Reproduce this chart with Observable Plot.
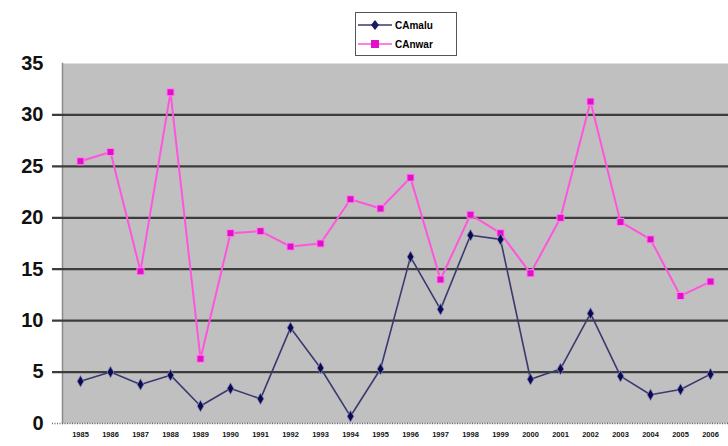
<!DOCTYPE html>
<html><head><meta charset="utf-8">
<script src="https://cdn.jsdelivr.net/npm/d3@7"></script>
<script src="https://cdn.jsdelivr.net/npm/@observablehq/plot@0.6"></script>
<style>
body{margin:0;background:#fff;}
#wrap{position:relative;width:728px;height:446px;font-family:"Liberation Sans",Arial,sans-serif;}
#legend{position:absolute;left:355px;top:12px;width:102px;height:44px;border:1.5px solid #555;background:#fff;box-sizing:border-box;font-size:10px;font-weight:bold;}
.row{position:absolute;left:2px;height:14px;display:flex;align-items:center;}
.row svg{margin-right:3px}
</style></head>
<body><div id="wrap"><div id="chart"></div><div id="legend"></div></div>
<script>
const years = ["1985","1986","1987","1988","1989","1990","1991","1992","1993","1994","1995","1996","1997","1998","1999","2000","2001","2002","2003","2004","2005","2006"];
const seriesNames = ["CAmalu","CAnwar"];
const blueValues = [4.1,5.0,3.8,4.7,1.7,3.4,2.4,9.3,5.4,0.7,5.3,16.2,11.1,18.3,17.9,4.3,5.3,10.7,4.6,2.8,3.3,4.8];
const pinkValues = [25.5,26.4,14.8,32.2,6.3,18.5,18.7,17.2,17.5,21.8,20.9,23.9,14.0,20.3,18.5,14.6,20.0,31.3,19.6,17.9,12.4,13.8];
const yTicks = [0,5,10,15,20,25,30,35];
const gridValues = [5,10,15,20,25,30];

const blue = years.map((y,i)=>({year:y, value:blueValues[i]}));
const pink = years.map((y,i)=>({year:y, value:pinkValues[i]}));

const plot = Plot.plot({
  width:728, height:446,
  marginTop:63, marginBottom:23, marginLeft:62, marginRight:0,
  style:{fontFamily:"'Liberation Sans',Arial,sans-serif", background:"transparent"},
  x:{type:"point", domain:years, padding:0.5, label:null},
  y:{domain:[0,35], label:null},
  marks:[
    Plot.frame({fill:"#c0c0c0", stroke:null}),
    Plot.frame({anchor:"left", stroke:"#8a8a8a", strokeWidth:1.5}),
    Plot.ruleY(gridValues, {stroke:"#3c3c3c", strokeWidth:2.2, insetLeft:-10}),
    Plot.ruleY([0], {stroke:"#666", strokeDasharray:"1,1.5", strokeWidth:1.5, insetLeft:-10}),
    Plot.axisY({ticks:yTicks, tickSize:0, tickPadding:19, fontSize:20, fontWeight:"bold", fill:"#111"}),
    Plot.axisX({tickSize:0, tickPadding:8, fontSize:7.5, fontWeight:"bold", fill:"#111"}),
    Plot.line(pink, {x:"year", y:"value", stroke:"#ff55dd", strokeWidth:2}),
    Plot.dot(pink, {x:"year", y:"value", symbol:"square", r:4, fill:"#e010c8", stroke:"#ff88ee", strokeWidth:1}),
    Plot.line(blue, {x:"year", y:"value", stroke:"#3a3a70", strokeWidth:1.6}),
    Plot.dot(blue, {x:"year", y:"value", symbol:"diamond", r:3.5, fill:"#0a0a50", stroke:"#8888bb", strokeWidth:0.8})
  ]
});
document.getElementById("chart").appendChild(plot);

const legend = document.getElementById("legend");
const colors = [["#1a1a60","#3a3a70","diamond"],["#e010c8","#ff55dd","square"]];
seriesNames.forEach((n,i)=>{
  const row = document.createElement("div");
  row.className="row"; row.style.top = (i===0?5:24)+"px";
  const sym = colors[i][2]==="diamond"
    ? `<path d="M17,2 L21,7 L17,12 L13,7Z" fill="${colors[i][0]}"/>`
    : `<rect x="13" y="3" width="8" height="8" fill="${colors[i][0]}"/>`;
  row.innerHTML = `<svg width="34" height="14"><line x1="0" x2="34" y1="7" y2="7" stroke="${colors[i][1]}" stroke-width="1.5"/>${sym}</svg><span>${n}</span>`;
  legend.appendChild(row);
});
</script></body></html>
